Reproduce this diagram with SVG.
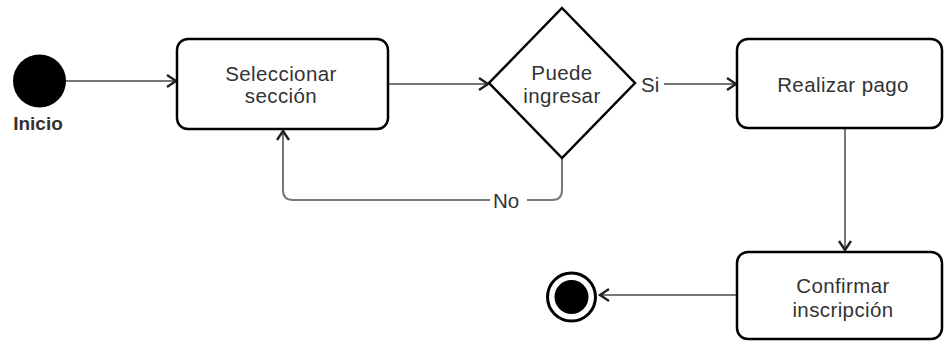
<svg xmlns="http://www.w3.org/2000/svg" width="944" height="341" viewBox="0 0 944 341">
<defs>
<style>
.node{fill:#fff;stroke:#000;stroke-width:2.5}
.t{font-family:"Liberation Sans",Arial,sans-serif;font-size:20.5px;letter-spacing:0.4px;fill:#333;text-anchor:middle}
.e{fill:none;stroke:#777;stroke-width:2}
.lbl{font-family:"Liberation Sans",Arial,sans-serif;font-size:20.5px;fill:#333}
</style>
<marker id="ah" markerWidth="16" markerHeight="16" refX="12" refY="8" orient="auto" markerUnits="userSpaceOnUse">
<path d="M3,2 L12,8 L3,14" fill="none" stroke="#222" stroke-width="2.4"/>
</marker>
</defs>
<rect width="944" height="341" fill="#fff"/>
<g id="edges">
<path class="e" d="M66,81 H176" marker-end="url(#ah)"/>
<path class="e" d="M388,84 H488" marker-end="url(#ah)"/>
<path class="e" d="M664,84 H736" marker-end="url(#ah)"/>
<path class="e" d="M845,128 V250" marker-end="url(#ah)"/>
<path class="e" d="M737,295 H600" marker-end="url(#ah)"/>
<path class="e" d="M562,158 V190 Q562,200 552,200 H527 M490,200 H293 Q283,200 283,190 V131" marker-end="url(#ah)"/>
<text class="lbl" x="641" y="92">Si</text>
<text class="lbl" x="493" y="208">No</text>
</g>
<g id="inicio">
<circle cx="39.5" cy="81" r="26.5" fill="#000"/>
<text x="38" y="130" font-family="Liberation Sans,Arial,sans-serif" font-size="19" font-weight="bold" fill="#333" text-anchor="middle">Inicio</text>
</g>
<g id="seleccionar">
<rect class="node" x="177" y="39" width="211" height="90" rx="11"/>
<text class="t" x="281" y="81">Seleccionar</text>
<text class="t" x="281" y="103">sección</text>
</g>
<g id="puede">
<polygon class="node" points="562,8 635,83 562,158 489,83"/>
<text class="t" x="562" y="80">Puede</text>
<text class="t" x="562" y="103">ingresar</text>
</g>
<g id="pago">
<rect class="node" x="737" y="39" width="205" height="89" rx="11"/>
<text class="t" x="843" y="92">Realizar pago</text>
</g>
<g id="confirmar">
<rect class="node" x="737" y="252" width="205" height="87" rx="11"/>
<text class="t" x="843" y="293">Confirmar</text>
<text class="t" x="843" y="317">inscripción</text>
</g>
<g id="fin">
<circle cx="571.5" cy="297" r="24" fill="#fff" stroke="#000" stroke-width="3"/>
<circle cx="571.5" cy="297" r="17" fill="#000"/>
</g>
</svg>
